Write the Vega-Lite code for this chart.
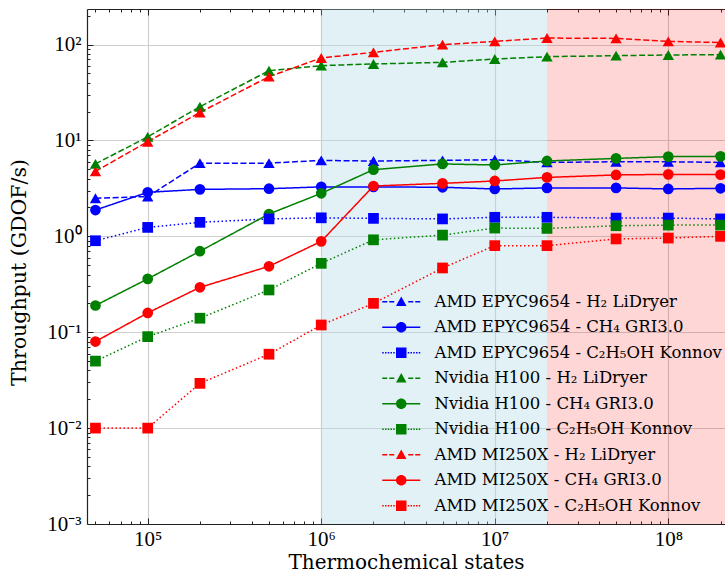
{
  "$schema": "https://vega.github.io/schema/vega-lite/v6.json",
  "width": 638,
  "height": 515,
  "autosize": {"type": "none"},
  "padding": {"left": 87, "top": 9, "right": 0, "bottom": 50},
  "background": "white",
  "config": {"view": {"stroke": null}, "font": "Liberation Serif"},
  "datasets": {
    "regions": [
      {"region": "gpu", "x": 1000000, "x2": 20000000},
      {"region": "big", "x": 20000000, "x2": 212200000}
    ],
    "perf": [
      {"s": "AMD EPYC9654 - H₂ LiDryer", "x": 50000, "y": 2.5},
      {"s": "AMD EPYC9654 - H₂ LiDryer", "x": 100000, "y": 2.6},
      {"s": "AMD EPYC9654 - H₂ LiDryer", "x": 200000, "y": 5.8},
      {"s": "AMD EPYC9654 - H₂ LiDryer", "x": 500000, "y": 5.8},
      {"s": "AMD EPYC9654 - H₂ LiDryer", "x": 1000000, "y": 6.2},
      {"s": "AMD EPYC9654 - H₂ LiDryer", "x": 2000000, "y": 6.1},
      {"s": "AMD EPYC9654 - H₂ LiDryer", "x": 5000000, "y": 6.2},
      {"s": "AMD EPYC9654 - H₂ LiDryer", "x": 10000000, "y": 6.3},
      {"s": "AMD EPYC9654 - H₂ LiDryer", "x": 20000000, "y": 5.9},
      {"s": "AMD EPYC9654 - H₂ LiDryer", "x": 50000000, "y": 6.0},
      {"s": "AMD EPYC9654 - H₂ LiDryer", "x": 100000000, "y": 6.0},
      {"s": "AMD EPYC9654 - H₂ LiDryer", "x": 200000000, "y": 5.9},
      {"s": "AMD EPYC9654 - CH₄ GRI3.0", "x": 50000, "y": 1.88},
      {"s": "AMD EPYC9654 - CH₄ GRI3.0", "x": 100000, "y": 2.88},
      {"s": "AMD EPYC9654 - CH₄ GRI3.0", "x": 200000, "y": 3.09},
      {"s": "AMD EPYC9654 - CH₄ GRI3.0", "x": 500000, "y": 3.14},
      {"s": "AMD EPYC9654 - CH₄ GRI3.0", "x": 1000000, "y": 3.28},
      {"s": "AMD EPYC9654 - CH₄ GRI3.0", "x": 2000000, "y": 3.28},
      {"s": "AMD EPYC9654 - CH₄ GRI3.0", "x": 5000000, "y": 3.25},
      {"s": "AMD EPYC9654 - CH₄ GRI3.0", "x": 10000000, "y": 3.12},
      {"s": "AMD EPYC9654 - CH₄ GRI3.0", "x": 20000000, "y": 3.2},
      {"s": "AMD EPYC9654 - CH₄ GRI3.0", "x": 50000000, "y": 3.2},
      {"s": "AMD EPYC9654 - CH₄ GRI3.0", "x": 100000000, "y": 3.12},
      {"s": "AMD EPYC9654 - CH₄ GRI3.0", "x": 200000000, "y": 3.17},
      {"s": "AMD EPYC9654 - C₂H₅OH Konnov", "x": 50000, "y": 0.9},
      {"s": "AMD EPYC9654 - C₂H₅OH Konnov", "x": 100000, "y": 1.24},
      {"s": "AMD EPYC9654 - C₂H₅OH Konnov", "x": 200000, "y": 1.4},
      {"s": "AMD EPYC9654 - C₂H₅OH Konnov", "x": 500000, "y": 1.52},
      {"s": "AMD EPYC9654 - C₂H₅OH Konnov", "x": 1000000, "y": 1.56},
      {"s": "AMD EPYC9654 - C₂H₅OH Konnov", "x": 2000000, "y": 1.54},
      {"s": "AMD EPYC9654 - C₂H₅OH Konnov", "x": 5000000, "y": 1.52},
      {"s": "AMD EPYC9654 - C₂H₅OH Konnov", "x": 10000000, "y": 1.58},
      {"s": "AMD EPYC9654 - C₂H₅OH Konnov", "x": 20000000, "y": 1.58},
      {"s": "AMD EPYC9654 - C₂H₅OH Konnov", "x": 50000000, "y": 1.55},
      {"s": "AMD EPYC9654 - C₂H₅OH Konnov", "x": 100000000, "y": 1.55},
      {"s": "AMD EPYC9654 - C₂H₅OH Konnov", "x": 200000000, "y": 1.52},
      {"s": "Nvidia H100 - H₂ LiDryer", "x": 50000, "y": 5.7},
      {"s": "Nvidia H100 - H₂ LiDryer", "x": 100000, "y": 10.9},
      {"s": "Nvidia H100 - H₂ LiDryer", "x": 200000, "y": 22.5},
      {"s": "Nvidia H100 - H₂ LiDryer", "x": 500000, "y": 53.4},
      {"s": "Nvidia H100 - H₂ LiDryer", "x": 1000000, "y": 60.3},
      {"s": "Nvidia H100 - H₂ LiDryer", "x": 2000000, "y": 62.8},
      {"s": "Nvidia H100 - H₂ LiDryer", "x": 5000000, "y": 65.2},
      {"s": "Nvidia H100 - H₂ LiDryer", "x": 10000000, "y": 70.8},
      {"s": "Nvidia H100 - H₂ LiDryer", "x": 20000000, "y": 74.8},
      {"s": "Nvidia H100 - H₂ LiDryer", "x": 50000000, "y": 76.6},
      {"s": "Nvidia H100 - H₂ LiDryer", "x": 100000000, "y": 77.9},
      {"s": "Nvidia H100 - H₂ LiDryer", "x": 200000000, "y": 78.5},
      {"s": "Nvidia H100 - CH₄ GRI3.0", "x": 50000, "y": 0.19},
      {"s": "Nvidia H100 - CH₄ GRI3.0", "x": 100000, "y": 0.36},
      {"s": "Nvidia H100 - CH₄ GRI3.0", "x": 200000, "y": 0.7},
      {"s": "Nvidia H100 - CH₄ GRI3.0", "x": 500000, "y": 1.71},
      {"s": "Nvidia H100 - CH₄ GRI3.0", "x": 1000000, "y": 2.81},
      {"s": "Nvidia H100 - CH₄ GRI3.0", "x": 2000000, "y": 4.96},
      {"s": "Nvidia H100 - CH₄ GRI3.0", "x": 5000000, "y": 5.69},
      {"s": "Nvidia H100 - CH₄ GRI3.0", "x": 10000000, "y": 5.55},
      {"s": "Nvidia H100 - CH₄ GRI3.0", "x": 20000000, "y": 6.11},
      {"s": "Nvidia H100 - CH₄ GRI3.0", "x": 50000000, "y": 6.5},
      {"s": "Nvidia H100 - CH₄ GRI3.0", "x": 100000000, "y": 6.78},
      {"s": "Nvidia H100 - CH₄ GRI3.0", "x": 200000000, "y": 6.83},
      {"s": "Nvidia H100 - C₂H₅OH Konnov", "x": 50000, "y": 0.05},
      {"s": "Nvidia H100 - C₂H₅OH Konnov", "x": 100000, "y": 0.09},
      {"s": "Nvidia H100 - C₂H₅OH Konnov", "x": 200000, "y": 0.14},
      {"s": "Nvidia H100 - C₂H₅OH Konnov", "x": 500000, "y": 0.276},
      {"s": "Nvidia H100 - C₂H₅OH Konnov", "x": 1000000, "y": 0.523},
      {"s": "Nvidia H100 - C₂H₅OH Konnov", "x": 2000000, "y": 0.92},
      {"s": "Nvidia H100 - C₂H₅OH Konnov", "x": 5000000, "y": 1.03},
      {"s": "Nvidia H100 - C₂H₅OH Konnov", "x": 10000000, "y": 1.22},
      {"s": "Nvidia H100 - C₂H₅OH Konnov", "x": 20000000, "y": 1.21},
      {"s": "Nvidia H100 - C₂H₅OH Konnov", "x": 50000000, "y": 1.29},
      {"s": "Nvidia H100 - C₂H₅OH Konnov", "x": 100000000, "y": 1.31},
      {"s": "Nvidia H100 - C₂H₅OH Konnov", "x": 200000000, "y": 1.31},
      {"s": "AMD MI250X - H₂ LiDryer", "x": 50000, "y": 4.76},
      {"s": "AMD MI250X - H₂ LiDryer", "x": 100000, "y": 9.7},
      {"s": "AMD MI250X - H₂ LiDryer", "x": 200000, "y": 19.6},
      {"s": "AMD MI250X - H₂ LiDryer", "x": 500000, "y": 46.3},
      {"s": "AMD MI250X - H₂ LiDryer", "x": 1000000, "y": 72.5},
      {"s": "AMD MI250X - H₂ LiDryer", "x": 2000000, "y": 83},
      {"s": "AMD MI250X - H₂ LiDryer", "x": 5000000, "y": 99.8},
      {"s": "AMD MI250X - H₂ LiDryer", "x": 10000000, "y": 108},
      {"s": "AMD MI250X - H₂ LiDryer", "x": 20000000, "y": 117},
      {"s": "AMD MI250X - H₂ LiDryer", "x": 50000000, "y": 116},
      {"s": "AMD MI250X - H₂ LiDryer", "x": 100000000, "y": 108},
      {"s": "AMD MI250X - H₂ LiDryer", "x": 200000000, "y": 105},
      {"s": "AMD MI250X - CH₄ GRI3.0", "x": 50000, "y": 0.08},
      {"s": "AMD MI250X - CH₄ GRI3.0", "x": 100000, "y": 0.159},
      {"s": "AMD MI250X - CH₄ GRI3.0", "x": 200000, "y": 0.294},
      {"s": "AMD MI250X - CH₄ GRI3.0", "x": 500000, "y": 0.487},
      {"s": "AMD MI250X - CH₄ GRI3.0", "x": 1000000, "y": 0.887},
      {"s": "AMD MI250X - CH₄ GRI3.0", "x": 2000000, "y": 3.35},
      {"s": "AMD MI250X - CH₄ GRI3.0", "x": 5000000, "y": 3.57},
      {"s": "AMD MI250X - CH₄ GRI3.0", "x": 10000000, "y": 3.78},
      {"s": "AMD MI250X - CH₄ GRI3.0", "x": 20000000, "y": 4.12},
      {"s": "AMD MI250X - CH₄ GRI3.0", "x": 50000000, "y": 4.37},
      {"s": "AMD MI250X - CH₄ GRI3.0", "x": 100000000, "y": 4.43},
      {"s": "AMD MI250X - CH₄ GRI3.0", "x": 200000000, "y": 4.4},
      {"s": "AMD MI250X - C₂H₅OH Konnov", "x": 50000, "y": 0.01},
      {"s": "AMD MI250X - C₂H₅OH Konnov", "x": 100000, "y": 0.01},
      {"s": "AMD MI250X - C₂H₅OH Konnov", "x": 200000, "y": 0.0293},
      {"s": "AMD MI250X - C₂H₅OH Konnov", "x": 500000, "y": 0.059},
      {"s": "AMD MI250X - C₂H₅OH Konnov", "x": 1000000, "y": 0.119},
      {"s": "AMD MI250X - C₂H₅OH Konnov", "x": 2000000, "y": 0.2},
      {"s": "AMD MI250X - C₂H₅OH Konnov", "x": 5000000, "y": 0.468},
      {"s": "AMD MI250X - C₂H₅OH Konnov", "x": 10000000, "y": 0.8},
      {"s": "AMD MI250X - C₂H₅OH Konnov", "x": 20000000, "y": 0.8},
      {"s": "AMD MI250X - C₂H₅OH Konnov", "x": 50000000, "y": 0.94},
      {"s": "AMD MI250X - C₂H₅OH Konnov", "x": 100000000, "y": 0.96},
      {"s": "AMD MI250X - C₂H₅OH Konnov", "x": 200000000, "y": 1.0}
    ]
  },
  "resolve": {"axis": {"x": "independent", "y": "independent"}},
  "layer": [
    {
      "data": {"name": "regions"},
      "mark": {"type": "rect", "clip": true},
      "encoding": {
        "x": {
          "field": "x", "type": "quantitative",
          "scale": {"type": "log", "domain": [44690, 212200000], "nice": false, "zero": false},
          "axis": {
            "orient": "bottom", "values": [100000, 1000000, 10000000, 100000000],
            "labelExpr": "['10⁵','10⁶','10⁷','10⁸'][round(log(datum.value)/LN10)-5]",
            "grid": true, "gridColor": "#cfcfcf", "gridWidth": 1.2,
            "ticks": false, "domain": true, "domainColor": "#222222", "domainWidth": 1.2,
            "labelFont": "Liberation Serif", "labelFontSize": 21, "labelColor": "black", "labelPadding": 4,
            "title": "Thermochemical states", "titleFont": "DejaVu Serif", "titleFontSize": 20,
            "titleFontWeight": "normal", "titleColor": "black", "titleBaseline": "alphabetic", "titleY": 44
          }
        },
        "x2": {"field": "x2"},
        "y": {
          "datum": 0.001, "type": "quantitative",
          "scale": {"type": "log", "domain": [0.001, 235], "nice": false, "zero": false},
          "axis": {
            "orient": "left", "values": [0.001, 0.01, 0.1, 1, 10, 100],
            "labelExpr": "['10⁻³','10⁻²','10⁻¹','10⁰','10¹','10²'][round(log(datum.value)/LN10)+3]",
            "grid": true, "gridColor": "#cfcfcf", "gridWidth": 1.2,
            "ticks": false, "domain": true, "domainColor": "#222222", "domainWidth": 1.2,
            "labelFont": "Liberation Serif", "labelFontSize": 21, "labelColor": "black", "labelPadding": 6,
            "title": "Throughput (GDOF/s)", "titleFont": "DejaVu Serif", "titleFontSize": 20.5,
            "titleFontWeight": "normal", "titleColor": "black", "titleBaseline": "middle",
            "titleX": -68, "titleY": 263
          }
        },
        "y2": {"datum": 235},
        "fill": {
          "field": "region", "type": "nominal",
          "scale": {"domain": ["gpu", "big"], "range": ["rgba(173,216,230,0.35)", "rgba(255,0,0,0.16)"]},
          "legend": null
        }
      }
    },
    {
      "data": {"name": "perf"},
      "mark": {"type": "line", "strokeWidth": 1.5, "clip": true},
      "encoding": {
        "x": {
          "field": "x", "type": "quantitative",
          "axis": {
            "orient": "bottom",
            "values": [50000, 60000, 70000, 80000, 90000, 100000, 200000, 300000, 400000, 500000, 600000, 700000, 800000, 900000, 1000000, 2000000, 3000000, 4000000, 5000000, 6000000, 7000000, 8000000, 9000000, 10000000, 20000000, 30000000, 40000000, 50000000, 60000000, 70000000, 80000000, 90000000, 100000000, 200000000],
            "labels": false, "grid": false, "domain": false, "title": null,
            "tickColor": "#222222", "tickWidth": 1,
            "tickSize": {"condition": {"test": "abs(log(datum.value)/LN10 - round(log(datum.value)/LN10)) < 0.01", "value": -6}, "value": -3}
          }
        },
        "y": {
          "field": "y", "type": "quantitative",
          "axis": {
            "orient": "left",
            "values": [0.002, 0.003, 0.004, 0.005, 0.006, 0.007, 0.008, 0.009, 0.01, 0.02, 0.03, 0.04, 0.05, 0.06, 0.07, 0.08, 0.09, 0.1, 0.2, 0.3, 0.4, 0.5, 0.6, 0.7, 0.8, 0.9, 1, 2, 3, 4, 5, 6, 7, 8, 9, 10, 20, 30, 40, 50, 60, 70, 80, 90, 100, 200],
            "labels": false, "grid": false, "domain": false, "title": null,
            "tickColor": "#222222", "tickWidth": 1,
            "tickSize": {"condition": {"test": "abs(log(datum.value)/LN10 - round(log(datum.value)/LN10)) < 0.01", "value": -6}, "value": -3}
          }
        },
        "color": {
          "field": "s", "type": "nominal",
          "scale": {
            "domain": ["AMD EPYC9654 - H₂ LiDryer", "AMD EPYC9654 - CH₄ GRI3.0", "AMD EPYC9654 - C₂H₅OH Konnov", "Nvidia H100 - H₂ LiDryer", "Nvidia H100 - CH₄ GRI3.0", "Nvidia H100 - C₂H₅OH Konnov", "AMD MI250X - H₂ LiDryer", "AMD MI250X - CH₄ GRI3.0", "AMD MI250X - C₂H₅OH Konnov"],
            "range": ["#0000ff", "#0000ff", "#0000ff", "#008000", "#008000", "#008000", "#ff0000", "#ff0000", "#ff0000"]
          },
          "legend": {
            "orient": "none", "legendX": 306, "legendY": 284.5, "title": null, "padding": 0,
            "labelFont": "DejaVu Serif", "labelFontSize": 16.5, "labelColor": "black", "labelLimit": 600,
            "labelOffset": 25, "rowPadding": 8.5, "symbolSize": 100,
            "encode": {
              "symbols": {
                "update": {
                  "shape": {"signal": "indexof(datum.value,'LiDryer')>=0 ? 'M -3.8 -0.15 H -2.8 V 0.15 H -3.8 Z M -2.4 -0.15 H -1.4 V 0.15 H -2.4 Z M 1.4 -0.15 H 2.4 V 0.15 H 1.4 Z M 2.8 -0.15 H 3.8 V 0.15 H 2.8 Z M 0 -1.05 L 1.05 0.85 L -1.05 0.85 Z' : indexof(datum.value,'GRI')>=0 ? 'M -3.8 -0.15 H 3.8 V 0.15 H -3.8 Z M 1.05 0 A 1.05 1.05 0 1 1 -1.05 0 A 1.05 1.05 0 1 1 1.05 0 Z' : 'M -3.8 -0.15 H -3.5 V 0.15 H -3.8 Z M -3.25 -0.15 H -2.95 V 0.15 H -3.25 Z M -2.7 -0.15 H -2.4 V 0.15 H -2.7 Z M -2.15 -0.15 H -1.85 V 0.15 H -2.15 Z M -1.6 -0.15 H -1.3 V 0.15 H -1.6 Z M 1.3 -0.15 H 1.6 V 0.15 H 1.3 Z M 1.85 -0.15 H 2.15 V 0.15 H 1.85 Z M 2.4 -0.15 H 2.7 V 0.15 H 2.4 Z M 2.95 -0.15 H 3.25 V 0.15 H 2.95 Z M 3.5 -0.15 H 3.8 V 0.15 H 3.5 Z M -1.05 -1.05 H 1.05 V 1.05 H -1.05 Z'"},
                  "fill": {"signal": "scale('color', datum.value)"},
                  "stroke": {"value": "transparent"},
                  "strokeWidth": {"value": 0},
                  "strokeDash": {"value": [1, 0]},
                  "size": {"value": 100},
                  "opacity": {"value": 1}
                }
              }
            }
          }
        },
        "strokeDash": {
          "field": "s", "type": "nominal",
          "scale": {
            "domain": ["AMD EPYC9654 - H₂ LiDryer", "AMD EPYC9654 - CH₄ GRI3.0", "AMD EPYC9654 - C₂H₅OH Konnov", "Nvidia H100 - H₂ LiDryer", "Nvidia H100 - CH₄ GRI3.0", "Nvidia H100 - C₂H₅OH Konnov", "AMD MI250X - H₂ LiDryer", "AMD MI250X - CH₄ GRI3.0", "AMD MI250X - C₂H₅OH Konnov"],
            "range": [[6, 2.6], [1, 0], [1.5, 2.5], [6, 2.6], [1, 0], [1.5, 2.5], [6, 2.6], [1, 0], [1.5, 2.5]]
          },
          "legend": null
        }
      }
    },
    {
      "data": {"name": "perf"},
      "transform": [{"filter": "indexof(datum.s, 'LiDryer') >= 0"}],
      "mark": {"type": "point", "shape": "triangle-up", "filled": true, "opacity": 1, "size": 130, "clip": true},
      "encoding": {
        "x": {
          "field": "x", "type": "quantitative",
          "axis": {
            "orient": "top",
            "values": [50000, 60000, 70000, 80000, 90000, 100000, 200000, 300000, 400000, 500000, 600000, 700000, 800000, 900000, 1000000, 2000000, 3000000, 4000000, 5000000, 6000000, 7000000, 8000000, 9000000, 10000000, 20000000, 30000000, 40000000, 50000000, 60000000, 70000000, 80000000, 90000000, 100000000, 200000000],
            "labels": false, "grid": false, "domain": true, "domainColor": "#222222", "domainWidth": 1.2, "title": null,
            "tickColor": "#222222", "tickWidth": 1,
            "tickSize": {"condition": {"test": "abs(log(datum.value)/LN10 - round(log(datum.value)/LN10)) < 0.01", "value": -6}, "value": -3}
          }
        },
        "y": {"field": "y", "type": "quantitative", "axis": null},
        "color": {"field": "s", "type": "nominal", "legend": null}
      }
    },
    {
      "data": {"name": "perf"},
      "transform": [{"filter": "indexof(datum.s, 'GRI') >= 0"}],
      "mark": {"type": "point", "shape": "circle", "filled": true, "opacity": 1, "size": 115, "clip": true},
      "encoding": {
        "x": {"field": "x", "type": "quantitative", "axis": null},
        "y": {"field": "y", "type": "quantitative", "axis": null},
        "color": {"field": "s", "type": "nominal", "legend": null}
      }
    },
    {
      "data": {"name": "perf"},
      "transform": [{"filter": "indexof(datum.s, 'Konnov') >= 0"}],
      "mark": {"type": "point", "shape": "square", "filled": true, "opacity": 1, "size": 115, "clip": true},
      "encoding": {
        "x": {"field": "x", "type": "quantitative", "axis": null},
        "y": {"field": "y", "type": "quantitative", "axis": null},
        "color": {"field": "s", "type": "nominal", "legend": null}
      }
    }
  ]
}
